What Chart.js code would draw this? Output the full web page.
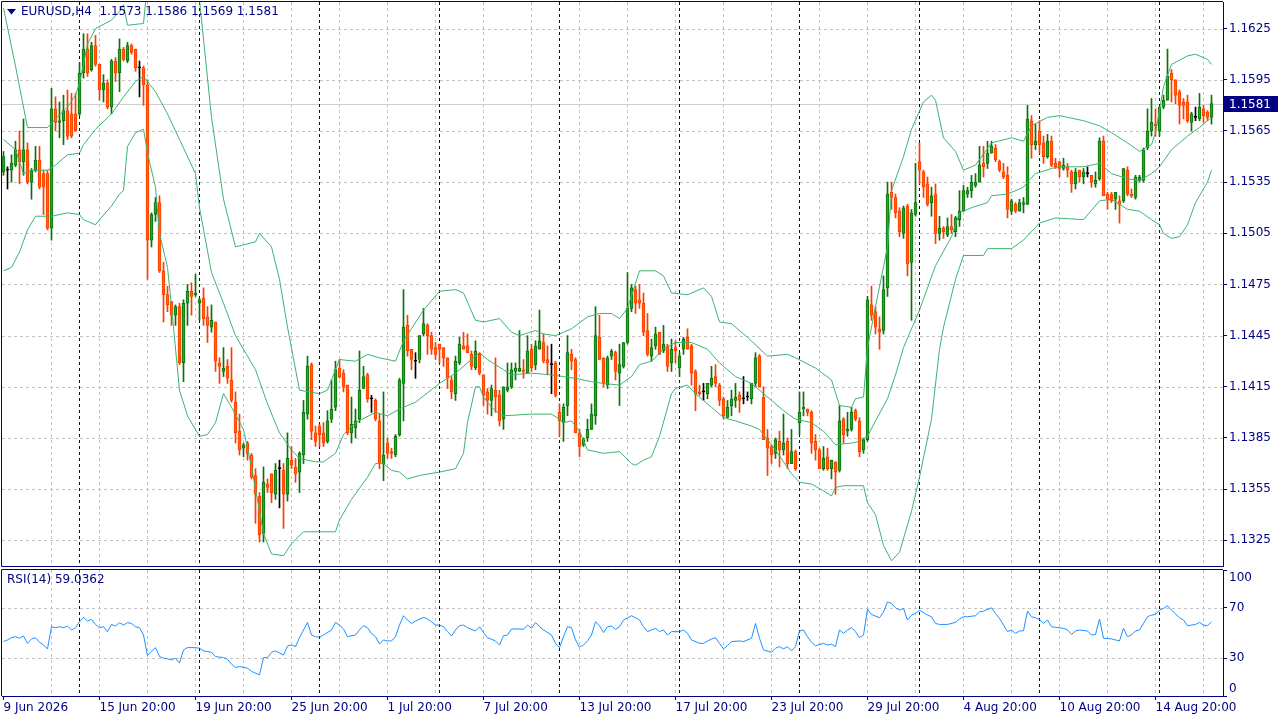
<!DOCTYPE html>
<html>
<head>
<meta charset="utf-8">
<title>EURUSD,H4</title>
<script src="https://cdn.jsdelivr.net/npm/chart.js@4.4.1/dist/chart.umd.min.js"></script>
<style>
  html, body { margin: 0; padding: 0; background: #ffffff; overflow: hidden; }
  #main { position: absolute; left: 0; top: 0; }
  #rsi { position: absolute; left: 0; top: 567px; }
</style>
</head>
<body>
<canvas id="main" width="1280" height="567"></canvas>
<canvas id="rsi" width="1280" height="153"></canvas>
<script>
// EURUSD H4 candles (index 0 = first bar on the left)
const opens = [
  1.1541,1.1542,1.1542,1.1545,1.1554,1.1547,1.1554,1.1535,1.1542,1.1548,
  1.1540,1.1540,1.1508,1.1578,1.1570,1.1571,1.1577,1.1575,1.1575,1.1575,
  1.1599,1.1613,1.1601,1.1615,1.1604,1.1589,1.1593,1.1579,1.1606,1.1599,
  1.1613,1.1606,1.1615,1.1613,1.1602,1.1602,1.1592,1.1501,1.1516,1.1523,
  1.1483,1.1469,1.1465,1.1457,1.1462,1.1429,1.1464,1.1471,1.1469,1.1464,
  1.1467,1.1456,1.1450,1.1453,1.1429,1.1424,1.1427,1.1419,1.1406,1.1389,
  1.1379,1.1382,1.1375,1.1363,1.1351,1.1329,1.1358,1.1364,1.1352,1.1367,
  1.1366,1.1352,1.1372,1.1368,1.1365,1.1375,1.1399,1.1428,1.1388,1.1392,
  1.1388,1.1383,1.1396,1.1403,1.1426,1.1423,1.1416,1.1388,1.1391,1.1396,
  1.1414,1.1422,1.1408,1.1407,1.1395,1.1370,1.1382,1.1377,1.1375,1.1387,
  1.1417,1.1451,1.1437,1.1430,1.1431,1.1446,1.1451,1.1445,1.1438,1.1440,
  1.1438,1.1432,1.1419,1.1411,1.1429,1.1439,1.1439,1.1434,1.1426,1.1434,
  1.1422,1.1412,1.1407,1.1413,1.1410,1.1396,1.1413,1.1415,1.1424,1.1424,
  1.1425,1.1423,1.1437,1.1428,1.1437,1.1441,1.1431,1.1428,1.1429,1.1400,
  1.1394,1.1404,1.1434,1.1431,1.1388,1.1381,1.1385,1.1390,1.1398,1.1444,
  1.1432,1.1416,1.1433,1.1435,1.1423,1.1427,1.1441,1.1461,1.1472,1.1466,
  1.1464,1.1448,1.1433,1.1439,1.1447,1.1436,1.1439,1.1429,1.1438,1.1426,
  1.1437,1.1444,1.1439,1.1424,1.1412,1.1412,1.1411,1.1416,1.1421,1.1416,
  1.1408,1.1397,1.1404,1.1407,1.1410,1.1408,1.1409,1.1408,1.1417,1.1433,
  1.1409,1.1385,1.1380,1.1376,1.1383,1.1378,1.1383,1.1370,1.1377,1.1394,
  1.1402,1.1402,1.1400,1.1383,1.1378,1.1367,1.1374,1.1367,1.1371,1.1366,
  1.1396,1.1389,1.1390,1.1401,1.1395,1.1378,1.1384,1.1463,1.1459,1.1449,
  1.1448,1.1473,1.1529,1.1526,1.1518,1.1505,1.1521,1.1488,1.1516,1.1547,
  1.1541,1.1534,1.1523,1.1528,1.1505,1.1508,1.1504,1.1509,1.1506,1.1513,
  1.1518,1.1528,1.1530,1.1533,1.1535,1.1546,1.1546,1.1552,1.1555,1.1547,
  1.1541,1.1539,1.1518,1.1522,1.1518,1.1522,1.1522,1.1571,1.1557,1.1565,
  1.1558,1.1550,1.1559,1.1546,1.1547,1.1543,1.1544,1.1541,1.1534,1.1542,
  1.1538,1.1540,1.1539,1.1534,1.1537,1.1559,1.1528,1.1528,1.1525,1.1524,
  1.1524,1.1542,1.1528,1.1526,1.1536,1.1536,1.1555,1.1565,1.1569,1.1565,
  1.1579,1.1583,1.1599,1.1595,1.1588,1.1582,1.1582,1.1570,1.1573,1.1572,
  1.1578,1.1576,1.1573
];
const highs = [
  1.1553,1.1544,1.1551,1.1559,1.1565,1.1572,1.1558,1.1543,1.1556,1.1556,
  1.1542,1.1542,1.1590,1.1585,1.1582,1.1586,1.1589,1.1587,1.1587,1.1605,
  1.1622,1.1622,1.1617,1.1621,1.1604,1.1598,1.1595,1.1607,1.1608,1.1619,
  1.1614,1.1617,1.1616,1.1613,1.1606,1.1603,1.1595,1.1517,1.1526,1.1527,
  1.1488,1.1474,1.1465,1.1463,1.1464,1.1466,1.1475,1.1476,1.1481,1.1467,
  1.1473,1.1462,1.1463,1.1453,1.1432,1.1438,1.1431,1.1438,1.1412,1.1399,
  1.1382,1.1383,1.1376,1.1367,1.1353,1.1368,1.1361,1.1364,1.1370,1.1372,
  1.1370,1.1388,1.1380,1.1373,1.1377,1.1407,1.1433,1.1429,1.1392,1.1393,
  1.1394,1.1401,1.1419,1.1430,1.1431,1.1425,1.1416,1.1409,1.1402,1.1436,
  1.1427,1.1423,1.1410,1.1408,1.1399,1.1412,1.1385,1.1379,1.1387,1.1420,
  1.1472,1.1457,1.1437,1.1435,1.1445,1.1461,1.1452,1.1447,1.1441,1.1440,
  1.1438,1.1432,1.1421,1.1433,1.1444,1.1447,1.1446,1.1436,1.1442,1.1435,
  1.1422,1.1414,1.1416,1.1432,1.1413,1.1415,1.1429,1.1429,1.1429,1.1448,
  1.1431,1.1445,1.1440,1.1442,1.1460,1.1446,1.1439,1.1440,1.1430,1.1405,
  1.1405,1.1445,1.1437,1.1432,1.1390,1.1385,1.1396,1.1405,1.1462,1.1457,
  1.1432,1.1433,1.1437,1.1436,1.1440,1.1441,1.1482,1.1475,1.1474,1.1475,
  1.1470,1.1458,1.1443,1.1450,1.1447,1.1451,1.1440,1.1443,1.1442,1.1435,
  1.1444,1.1449,1.1440,1.1425,1.1416,1.1417,1.1417,1.1427,1.1428,1.1417,
  1.1409,1.1407,1.1413,1.1417,1.1412,1.1421,1.1412,1.1417,1.1435,1.1434,
  1.1415,1.1390,1.1381,1.1385,1.1389,1.1399,1.1385,1.1390,1.1378,1.1412,
  1.1412,1.1402,1.1401,1.1387,1.1379,1.1380,1.1379,1.1372,1.1371,1.1404,
  1.1397,1.1400,1.1403,1.1402,1.1397,1.1385,1.1468,1.1474,1.1462,1.1456,
  1.1480,1.1535,1.1535,1.1528,1.1520,1.1521,1.1522,1.1519,1.1546,1.1558,
  1.1542,1.1538,1.1532,1.1534,1.1515,1.1509,1.1514,1.1516,1.1515,1.1530,
  1.1533,1.1532,1.1539,1.1540,1.1556,1.1556,1.1559,1.1559,1.1557,1.1548,
  1.1546,1.1544,1.1525,1.1523,1.1525,1.1526,1.1580,1.1574,1.1569,1.1571,
  1.1562,1.1563,1.1562,1.1549,1.1547,1.1549,1.1546,1.1542,1.1543,1.1542,
  1.1543,1.1544,1.1539,1.1541,1.1561,1.1562,1.1529,1.1529,1.1529,1.1527,
  1.1543,1.1544,1.1531,1.1539,1.1539,1.1555,1.1578,1.1584,1.1578,1.1579,
  1.1586,1.1613,1.1601,1.1595,1.1589,1.1584,1.1586,1.1576,1.1579,1.1587,
  1.1580,1.1577,1.1586
];
const lows = [
  1.1539,1.1531,1.1535,1.1544,1.1534,1.1539,1.1534,1.1525,1.1541,1.1531,
  1.1516,1.1507,1.1501,1.1565,1.1561,1.1557,1.1560,1.1561,1.1565,1.1574,
  1.1596,1.1597,1.1600,1.1603,1.1583,1.1582,1.1578,1.1575,1.1594,1.1588,
  1.1606,1.1605,1.1610,1.1600,1.1585,1.1580,1.1478,1.1497,1.1512,1.1482,
  1.1453,1.1459,1.1451,1.1451,1.1428,1.1418,1.1451,1.1457,1.1468,1.1454,
  1.1451,1.1441,1.1447,1.1424,1.1417,1.1421,1.1417,1.1406,1.1382,1.1375,
  1.1374,1.1372,1.1361,1.1335,1.1324,1.1324,1.1353,1.1347,1.1349,1.1344,
  1.1332,1.1348,1.1367,1.1359,1.1353,1.1370,1.1396,1.1384,1.1380,1.1380,
  1.1380,1.1382,1.1394,1.1401,1.1420,1.1412,1.1387,1.1382,1.1385,1.1394,
  1.1414,1.1406,1.1400,1.1395,1.1367,1.1360,1.1373,1.1373,1.1374,1.1386,
  1.1395,1.1433,1.1425,1.1420,1.1429,1.1445,1.1434,1.1434,1.1431,1.1429,
  1.1427,1.1414,1.1408,1.1407,1.1428,1.1437,1.1435,1.1425,1.1425,1.1422,
  1.1404,1.1399,1.1398,1.1400,1.1392,1.1390,1.1412,1.1414,1.1419,1.1424,
  1.1420,1.1423,1.1424,1.1425,1.1437,1.1429,1.1422,1.1411,1.1409,1.1386,
  1.1383,1.1398,1.1425,1.1388,1.1374,1.1380,1.1383,1.1390,1.1393,1.1431,
  1.1415,1.1414,1.1431,1.1419,1.1404,1.1426,1.1440,1.1459,1.1458,1.1461,
  1.1445,1.1433,1.1430,1.1437,1.1434,1.1435,1.1424,1.1424,1.1429,1.1421,
  1.1434,1.1437,1.1416,1.1401,1.1410,1.1407,1.1408,1.1415,1.1415,1.1404,
  1.1396,1.1397,1.1398,1.1403,1.1400,1.1405,1.1407,1.1405,1.1415,1.1415,
  1.1384,1.1363,1.1370,1.1373,1.1368,1.1375,1.1367,1.1370,1.1366,1.1387,
  1.1398,1.1398,1.1376,1.1372,1.1367,1.1366,1.1366,1.1361,1.1352,1.1365,
  1.1382,1.1386,1.1389,1.1395,1.1374,1.1376,1.1383,1.1454,1.1446,1.1437,
  1.1446,1.1468,1.1519,1.1514,1.1503,1.1502,1.1480,1.1454,1.1515,1.1534,
  1.1526,1.1521,1.1515,1.1499,1.1501,1.1502,1.1503,1.1505,1.1503,1.1509,
  1.1518,1.1526,1.1526,1.1532,1.1535,1.1538,1.1543,1.1552,1.1547,1.1541,
  1.1537,1.1514,1.1516,1.1517,1.1518,1.1517,1.1522,1.1549,1.1554,1.1552,
  1.1546,1.1549,1.1544,1.1543,1.1538,1.1542,1.1538,1.1529,1.1531,1.1535,
  1.1534,1.1538,1.1532,1.1532,1.1536,1.1527,1.1519,1.1523,1.1519,1.1511,
  1.1523,1.1527,1.1526,1.1525,1.1535,1.1535,1.1554,1.1562,1.1562,1.1562,
  1.1578,1.1583,1.1582,1.1581,1.1569,1.1572,1.1570,1.1565,1.1571,1.1571,
  1.1570,1.1571,1.1569
];
const closes = [
  1.1550,1.1542,1.1546,1.1554,1.1547,1.1554,1.1535,1.1542,1.1548,1.1532,
  1.1532,1.1508,1.1578,1.1570,1.1571,1.1577,1.1562,1.1562,1.1565,1.1599,
  1.1613,1.1599,1.1615,1.1604,1.1589,1.1593,1.1579,1.1606,1.1599,1.1613,
  1.1607,1.1615,1.1611,1.1602,1.1602,1.1592,1.1501,1.1516,1.1523,1.1483,
  1.1469,1.1463,1.1457,1.1462,1.1429,1.1464,1.1471,1.1468,1.1470,1.1466,
  1.1455,1.1451,1.1454,1.1430,1.1427,1.1426,1.1420,1.1407,1.1388,1.1378,
  1.1381,1.1376,1.1362,1.1352,1.1328,1.1359,1.1356,1.1353,1.1366,1.1367,
  1.1352,1.1373,1.1369,1.1364,1.1376,1.1400,1.1427,1.1389,1.1383,1.1387,
  1.1382,1.1395,1.1402,1.1425,1.1421,1.1415,1.1388,1.1393,1.1395,1.1413,
  1.1421,1.1408,1.1408,1.1396,1.1370,1.1375,1.1376,1.1376,1.1386,1.1419,
  1.1450,1.1436,1.1431,1.1430,1.1445,1.1452,1.1445,1.1437,1.1434,1.1437,
  1.1432,1.1420,1.1412,1.1430,1.1440,1.1437,1.1435,1.1427,1.1436,1.1423,
  1.1410,1.1407,1.1414,1.1409,1.1395,1.1415,1.1415,1.1425,1.1426,1.1426,
  1.1424,1.1436,1.1426,1.1439,1.1442,1.1430,1.1429,1.1428,1.1410,1.1395,
  1.1403,1.1435,1.1430,1.1388,1.1380,1.1384,1.1390,1.1399,1.1445,1.1431,
  1.1417,1.1432,1.1436,1.1424,1.1428,1.1441,1.1461,1.1473,1.1464,1.1464,
  1.1447,1.1434,1.1438,1.1446,1.1434,1.1440,1.1427,1.1437,1.1436,1.1433,
  1.1443,1.1437,1.1423,1.1411,1.1411,1.1412,1.1417,1.1420,1.1417,1.1407,
  1.1398,1.1403,1.1408,1.1409,1.1407,1.1408,1.1409,1.1417,1.1432,1.1415,
  1.1384,1.1379,1.1375,1.1384,1.1378,1.1382,1.1370,1.1377,1.1367,1.1400,
  1.1403,1.1400,1.1382,1.1378,1.1367,1.1373,1.1367,1.1372,1.1365,1.1395,
  1.1387,1.1390,1.1400,1.1396,1.1377,1.1384,1.1466,1.1457,1.1450,1.1447,
  1.1472,1.1528,1.1526,1.1517,1.1506,1.1520,1.1487,1.1517,1.1523,1.1542,
  1.1532,1.1522,1.1527,1.1505,1.1508,1.1506,1.1509,1.1507,1.1514,1.1518,
  1.1530,1.1530,1.1535,1.1535,1.1545,1.1544,1.1552,1.1556,1.1548,1.1542,
  1.1538,1.1519,1.1524,1.1518,1.1523,1.1523,1.1572,1.1557,1.1559,1.1557,
  1.1550,1.1559,1.1545,1.1544,1.1543,1.1545,1.1542,1.1534,1.1541,1.1538,
  1.1541,1.1540,1.1535,1.1536,1.1559,1.1527,1.1525,1.1524,1.1529,1.1522,
  1.1543,1.1528,1.1527,1.1538,1.1538,1.1554,1.1565,1.1570,1.1568,1.1579,
  1.1583,1.1597,1.1595,1.1586,1.1580,1.1580,1.1571,1.1575,1.1573,1.1579,
  1.1574,1.1573,1.1581
];

// Bollinger Bands (20, 2) as drawn, sampled at bar indexes
const upperIdx = [0,3,6,11,13,16,18,19,20,21,23,27,29,30,31,35,36,40,44,47,
  49,52,55,58,63,64,67,69,71,74,79,81,84,88,91,94,98,100,102,105,
  109,113,115,118,120,124,127,129,133,135,138,142,146,149,152,154,156,159,163,165,
  167,171,175,177,179,182,186,191,196,198,203,207,209,212,213,215,216,218,221,222,
  225,227,230,232,233,235,238,240,243,247,252,255,257,261,264,266,270,274,277,281,
  284,287,288,289,290,292,296,298,301,302];
const upperVal = [1.1637,1.1603,1.1567,1.1567,1.1572,1.1579,1.1586,1.1593,1.1604,1.1616,
  1.1625,1.1630,1.1635,1.1639,1.1627,1.1628,1.1652,1.1675,1.1690,1.1672,
  1.1642,1.1573,1.1525,1.1497,1.1500,1.1505,1.1497,1.1478,1.1450,1.1413,
  1.1411,1.1413,1.1431,1.1430,1.1434,1.1432,1.1430,1.1442,1.1449,1.1460,
  1.1471,1.1472,1.1470,1.1454,1.1453,1.1455,1.1447,1.1445,1.1448,1.1446,
  1.1445,1.1449,1.1456,1.1458,1.1458,1.1455,1.1461,1.1483,1.1483,1.1480,
  1.1470,1.1469,1.1473,1.1468,1.1453,1.1452,1.1444,1.1433,1.1434,1.1432,
  1.1426,1.1419,1.1404,1.1403,1.1408,1.1409,1.1438,1.1462,1.1497,1.1530,
  1.1550,1.1566,1.1582,1.1586,1.1583,1.1561,1.1553,1.1542,1.1545,1.1558,
  1.1561,1.1559,1.1568,1.1573,1.1574,1.1573,1.1571,1.1568,1.1564,1.1558,
  1.1553,1.1557,1.1564,1.1577,1.1591,1.1604,1.1609,1.1610,1.1607,1.1604];
const midIdx = [0,3,5,7,11,13,16,19,20,23,27,30,33,35,36,38,41,44,48,49,
  52,55,58,63,66,69,72,74,78,80,83,85,88,93,96,99,103,109,113,117,
  119,121,125,127,132,137,140,143,147,150,154,157,159,162,165,168,172,176,179,183,
  187,190,192,195,198,202,205,208,212,214,216,218,221,223,225,229,233,237,239,242,
  246,247,251,255,256,258,262,264,270,274,277,281,284,287,289,292,296,299,302];
const midVal = [1.1560,1.1554,1.1540,1.1542,1.1542,1.1545,1.1551,1.1552,1.1557,1.1566,
  1.1575,1.1585,1.1594,1.1597,1.1594,1.1588,1.1575,1.1560,1.1540,1.1520,
  1.1482,1.1464,1.1445,1.1425,1.1405,1.1388,1.1378,1.1373,1.1371,1.1371,
  1.1376,1.1387,1.1394,1.1400,1.1398,1.1402,1.1406,1.1417,1.1423,1.1431,
  1.1435,1.1431,1.1425,1.1422,1.1423,1.1422,1.1421,1.1420,1.1418,1.1417,
  1.1416,1.1421,1.1428,1.1430,1.1437,1.1441,1.1441,1.1437,1.1429,1.1421,
  1.1417,1.1411,1.1407,1.1401,1.1396,1.1394,1.1389,1.1381,1.1382,1.1383,
  1.1386,1.1395,1.1408,1.1422,1.1438,1.1460,1.1486,1.1503,1.1517,1.1520,
  1.1523,1.1527,1.1528,1.1532,1.1535,1.1540,1.1543,1.1544,1.1544,1.1546,
  1.1540,1.1537,1.1536,1.1540,1.1544,1.1554,1.1562,1.1567,1.1573];
const lowIdx = [0,2,4,6,8,12,16,19,20,23,24,27,29,30,31,33,35,36,38,39,
  41,42,44,46,49,51,53,55,57,60,62,65,67,70,72,75,83,84,87,91,
  93,95,97,99,101,104,109,113,115,116,118,119,120,122,124,125,132,137,139,140,
  142,144,146,150,154,157,158,160,162,164,167,168,171,173,177,180,183,187,189,193,
  197,199,202,205,207,208,210,215,216,218,220,222,224,227,229,232,234,235,238,240,
  245,246,252,255,259,263,270,274,277,281,284,287,289,290,292,294,296,298,301,302];
const lowVal = [1.1483,1.1485,1.1494,1.1507,1.1515,1.1515,1.1517,1.1516,1.1513,1.1510,
  1.1513,1.1521,1.1528,1.1530,1.1556,1.1564,1.1566,1.1552,1.1532,1.1505,
  1.1485,1.1462,1.1413,1.1398,1.1386,1.1387,1.1394,1.1411,1.1403,1.1390,
  1.1368,1.1329,1.1317,1.1316,1.1323,1.1330,1.1330,1.1337,1.1349,1.1362,
  1.1370,1.1370,1.1366,1.1365,1.1361,1.1363,1.1365,1.1367,1.1376,1.1394,
  1.1415,1.1415,1.1409,1.1403,1.1399,1.1398,1.1399,1.1399,1.1396,1.1394,
  1.1395,1.1389,1.1378,1.1376,1.1377,1.1370,1.1369,1.1372,1.1374,1.1386,
  1.1411,1.1414,1.1416,1.1411,1.1403,1.1397,1.1395,1.1392,1.1390,1.1378,
  1.1364,1.1359,1.1358,1.1354,1.1351,1.1356,1.1357,1.1357,1.1347,1.1340,
  1.1322,1.1313,1.1318,1.1342,1.1362,1.1396,1.1437,1.1450,1.1478,1.1492,
  1.1492,1.1496,1.1496,1.1501,1.1511,1.1514,1.1513,1.1524,1.1525,1.1519,
  1.1518,1.1513,1.1510,1.1505,1.1502,1.1503,1.1510,1.1523,1.1535,1.1542];

// RSI(14) as drawn, sampled at bar indexes
const rsiIdx = [0,1,2,3,4,5,6,7,8,9, 10,11,12,13,14,15,16,17,18,19,
  20,21,22,23,24,25,26,27,28,29, 30,31,32,33,34,35,36,37,38,39,
  40,41,42,43,44,45,46,48,49,50, 51,52,53,55,56,57,58,59,61,62,
  64,65,66,67,68,70,71,72,73,74, 76,77,78,79,80,82,83,84,85,86,
  88,89,90,91,92,93,94,95,96,97, 98,99,100,101,102,103,105,106,107,108,
  109,110,111,112,113,114,115,116,118,119, 120,121,123,124,125,126,127,129,130,131,
  132,133,134,135,137,138,139,140,141,142, 143,144,145,146,147,148,149,150,151,152,
  153,154,155,157,158,159,160,161,162,163, 164,165,166,167,168,169,170,171,172,174,
  175,177,178,179,180,181,182,184,185,187, 188,189,190,192,193,194,195,196,197,198,
  199,200,201,202,203,205,206,207,208,209, 210,211,212,213,214,215,216,217,219,220,
  221,222,223,224,225,226,227,228,229,231, 232,233,234,236,238,239,240,241,243,244,
  245,247,248,249,250,251,252,253,254,255, 256,257,258,259,260,261,262,263,265,266,
  267,268,269,271,272,273,274,275,277,278, 279,280,281,282,283,284,285,286,287,288,
  289,290,291,292,294,295,296,297,298,299, 300,301,302];
const rsiVal = [43.2,44.5,46.3,47.1,45.8,47.6,41.8,45.3,46.3,42.6, 40.5,37.4,55.0,54.2,55.0,54.2,55.5,52.4,54.2,58.9,
  62.4,59.5,60.8,56.8,54.2,55.0,51.1,56.8,55.5,58.2, 56.3,58.2,57.6,55.0,54.2,48.4,32.1,35.6,38.4,31.3,
  30.0,29.5,28.7,30.0,26.1,36.6,38.4,38.4,37.9,35.8, 35.3,34.7,31.3,30.5,29.2,25.3,22.6,23.4,22.1,19.5,
  16.8,30.5,30.5,34.7,35.8,32.6,39.7,40.5,39.2,46.3, 58.4,48.4,47.1,46.6,48.4,52.4,58.4,56.3,53.2,47.1,
  48.4,52.4,55.8,54.2,49.7,47.1,41.3,44.5,43.7,43.7, 47.1,56.3,63.7,60.3,57.6,59.5,62.4,61.1,58.9,56.3,
  56.3,55.0,51.1,47.6,52.4,55.8,56.3,54.2,51.6,55.0, 50.3,46.3,43.7,40.5,47.9,48.4,53.2,53.2,52.9,56.3,
  53.7,58.4,55.0,52.4,48.4,41.8,38.4,47.1,55.0,54.2, 44.5,38.7,40.5,43.7,48.4,58.9,55.8,50.3,55.0,55.5,
  52.9,55.0,60.3,63.7,62.1,60.3,55.0,51.1,52.4,53.7, 51.1,52.4,48.4,51.1,51.1,51.1,52.4,49.7,44.5,41.8,
  41.8,45.3,46.3,41.8,37.4,40.0,43.2,43.7,43.2,45.8, 57.6,45.8,36.6,34.7,37.9,39.2,37.4,39.2,35.8,39.2,
  51.6,52.4,47.1,42.6,40.0,41.8,40.5,41.1,39.2,52.4, 49.7,52.4,54.2,51.1,46.3,48.4,68.9,64.7,62.1,66.8,
  74.7,73.4,70.0,68.2,69.5,60.3,64.2,65.5,68.2,64.2, 62.9,57.6,56.8,56.8,58.4,61.1,62.9,62.9,63.7,66.8,
  67.4,70.0,65.5,61.6,56.3,51.1,52.4,49.7,51.6,51.8, 67.4,62.9,62.1,60.8,57.6,60.3,55.0,54.5,53.7,52.4,
  48.9,51.6,52.4,51.6,48.4,48.9,61.1,45.8,45.3,44.5, 43.7,53.7,47.1,48.4,51.6,52.4,57.6,62.9,64.2,64.7,
  68.2,69.5,71.6,68.2,62.1,60.3,55.8,56.3,56.8,58.4, 56.3,55.8,59.0];

// axes
const priceTicks = [1.1325,1.1355,1.1385,1.1415,1.1445,1.1475,1.1505,1.1535,1.1565,1.1595,1.1625];
const rsiTicks = [0,30,70,100];
const rsiLevels = [30,70];
const dateTickIdx = [0,24,48,72,96,120,144,168,192,216,240,264,288];
const dateLabels = ['9 Jun 2026','15 Jun 20:00','19 Jun 20:00','25 Jun 20:00','1 Jul 20:00','7 Jul 20:00',
  '13 Jul 20:00','17 Jul 20:00','23 Jul 20:00','29 Jul 20:00','4 Aug 20:00','10 Aug 20:00','14 Aug 20:00'];
const gridIdx = [12,24,36,48,60,72,84,96,108,120,132,144,156,168,180,192,204,216,228,240,252,264,276,288,300];
const sepIdx = [19,49,79,109,139,169,199,229,259,289];

const symbol = 'EURUSD,H4';
const rsiLabel = 'RSI(14) 59.0362';

const NAVY = '#000080';
const GRID = '#c4c4c4';
const X_MIN = -0.375, X_MAX = 304.875;
const Y_MIN = 1.130994, Y_MAX = 1.164061;

Chart.defaults.font.family = '"DejaVu Sans", sans-serif';
Chart.defaults.font.size = 12;

const fmt = v => v.toFixed(4);
const pts = (idx, val) => idx.map((x, k) => ({ x: x, y: val[k] }));
// no automatic label padding: plot area must reach the panel edges
const noPad = s => { s.paddingTop = 0; s.paddingBottom = 0; s.paddingLeft = 0; s.paddingRight = 0; };

// candle colours from direction
const dir = closes.map((c, i) => Math.sign(c - opens[i]));
const fillCols = dir.map(d => d > 0 ? '#24a824' : d < 0 ? '#ff6a00' : '#000000');
const edgeCols = dir.map(d => d > 0 ? '#0c700c' : d < 0 ? '#ff3a00' : '#000000');

function vLine(ctx, px, y0, y1) {
  const xx = Math.floor(px) + 0.5;
  ctx.beginPath(); ctx.moveTo(xx, y0); ctx.lineTo(xx, y1); ctx.stroke();
}
function hLine(ctx, py, x0, x1) {
  const yy = Math.round(py) + 0.5;
  ctx.beginPath(); ctx.moveTo(x0, yy); ctx.lineTo(x1, yy); ctx.stroke();
}

const mainDecor = {
  id: 'mainDecor',
  beforeDatasetsDraw(chart) {
    const { ctx, chartArea: a, scales: { x, y } } = chart;
    ctx.save();
    ctx.lineWidth = 1;
    ctx.strokeStyle = GRID;
    ctx.setLineDash([3, 3]);
    gridIdx.forEach(i => vLine(ctx, x.getPixelForValue(i), a.top, a.bottom));
    priceTicks.forEach(v => hLine(ctx, y.getPixelForValue(v), a.left, a.right));
    // current bid line
    ctx.setLineDash([]);
    ctx.strokeStyle = '#cfcfcf';
    hLine(ctx, y.getPixelForValue(closes[closes.length - 1]), a.left, a.right);
    // period separators
    ctx.strokeStyle = NAVY;
    ctx.setLineDash([3, 3]);
    sepIdx.forEach(i => vLine(ctx, x.getPixelForValue(i), a.top, a.bottom));
    ctx.restore();
  },
  afterDraw(chart) {
    const { ctx, chartArea: a, scales: { y } } = chart;
    const n = closes.length - 1;
    ctx.save();
    ctx.strokeStyle = NAVY;
    ctx.lineWidth = 1;
    ctx.beginPath();
    ctx.moveTo(a.left - 0.5, a.bottom + 0.5);
    ctx.lineTo(a.left - 0.5, a.top - 0.5);
    ctx.lineTo(a.right, a.top - 0.5);
    ctx.moveTo(a.left - 0.5, a.bottom + 0.5);
    ctx.lineTo(a.right, a.bottom + 0.5);
    ctx.stroke();

    // header
    ctx.fillStyle = NAVY;
    ctx.beginPath();
    ctx.moveTo(7, 9); ctx.lineTo(16, 9); ctx.lineTo(11.5, 14.5);
    ctx.closePath(); ctx.fill();
    ctx.font = '12px "DejaVu Sans"';
    ctx.textBaseline = 'middle';
    ctx.fillText(symbol + '  ' + fmt(opens[n]) + ' ' + fmt(highs[n]) + ' ' + fmt(lows[n]) + ' ' + fmt(closes[n]), 21, 12);

    // last price label
    const py = Math.round(y.getPixelForValue(closes[n]));
    ctx.fillStyle = NAVY;
    ctx.fillRect(a.right, py - 8, 55, 16);
    ctx.fillStyle = '#ffffff';
    ctx.fillText(fmt(closes[n]), a.right + 6, py + 0.5);
    ctx.restore();
  }
};

const bandLine = (label, idx, val) => ({
  type: 'line', label: label, data: pts(idx, val),
  borderColor: '#3cb371', borderWidth: 1, pointRadius: 0, tension: 0, order: 0
});

new Chart(document.getElementById('main'), {
  type: 'bar',
  data: {
    datasets: [
      bandLine('Upper', upperIdx, upperVal),
      bandLine('Middle', midIdx, midVal),
      bandLine('Lower', lowIdx, lowVal),
      {
        label: 'Body',
        data: opens.map((o, i) => ({ x: i, y: [o, closes[i]] })),
        backgroundColor: fillCols, borderColor: edgeCols, borderWidth: 1,
        borderSkipped: false, barThickness: 3, minBarLength: 1, grouped: false, order: 1
      },
      {
        label: 'Wick',
        data: lows.map((l, i) => ({ x: i, y: [l, highs[i]] })),
        backgroundColor: edgeCols, borderWidth: 0,
        barThickness: 1, grouped: false, order: 2
      }
    ]
  },
  options: {
    responsive: false,
    devicePixelRatio: 1,
    animation: false,
    layout: { padding: { left: 2, top: 2, right: 0, bottom: 1 } },
    plugins: { legend: { display: false }, tooltip: { enabled: false } },
    scales: {
      x: { type: 'linear', min: X_MIN, max: X_MAX, offset: false, display: false },
      y: {
        position: 'right', min: Y_MIN, max: Y_MAX, beginAtZero: false,
        afterBuildTicks: s => { s.ticks = priceTicks.map(v => ({ value: v })); },
        afterFit: s => { s.width = 57; noPad(s); },
        ticks: { color: NAVY, padding: 2, callback: v => fmt(v) },
        grid: { drawOnChartArea: false, drawTicks: true, tickLength: 4, tickColor: NAVY },
        border: { display: true, color: NAVY }
      }
    }
  },
  plugins: [mainDecor]
});

const rsiDecor = {
  id: 'rsiDecor',
  beforeDatasetsDraw(chart) {
    const { ctx, chartArea: a, scales: { x, y } } = chart;
    ctx.save();
    ctx.lineWidth = 1;
    ctx.strokeStyle = GRID;
    ctx.setLineDash([3, 3]);
    gridIdx.forEach(i => vLine(ctx, x.getPixelForValue(i), a.top, a.bottom));
    rsiLevels.forEach(v => hLine(ctx, y.getPixelForValue(v), a.left, a.right));
    ctx.strokeStyle = NAVY;
    sepIdx.forEach(i => vLine(ctx, x.getPixelForValue(i), a.top, a.bottom));
    ctx.restore();
  },
  afterDraw(chart) {
    const { ctx, chartArea: a } = chart;
    ctx.save();
    ctx.strokeStyle = NAVY;
    ctx.lineWidth = 1;
    ctx.beginPath();
    ctx.moveTo(a.left - 0.5, a.bottom);
    ctx.lineTo(a.left - 0.5, a.top - 0.5);
    ctx.lineTo(a.right, a.top - 0.5);
    ctx.stroke();
    ctx.fillStyle = NAVY;
    ctx.font = '12px "DejaVu Sans"';
    ctx.textBaseline = 'middle';
    ctx.fillText(rsiLabel, 7, 13);
    ctx.fillText(String(rsiTicks[3]), a.right + 6, 11);
    ctx.fillText(String(rsiTicks[0]), a.right + 6, 122);
    ctx.restore();
  }
};

new Chart(document.getElementById('rsi'), {
  type: 'line',
  data: {
    datasets: [{
      label: 'RSI(14)', data: pts(rsiIdx, rsiVal),
      borderColor: '#1e90ff', borderWidth: 1, pointRadius: 0, tension: 0
    }]
  },
  options: {
    responsive: false,
    devicePixelRatio: 1,
    animation: false,
    layout: { padding: { left: 2, top: 3, right: 0, bottom: 0 } },
    plugins: { legend: { display: false }, tooltip: { enabled: false } },
    scales: {
      x: {
        type: 'linear', min: X_MIN, max: X_MAX, offset: false,
        afterBuildTicks: s => { s.ticks = dateTickIdx.map(v => ({ value: v })); },
        afterFit: s => { s.height = 24; noPad(s); },
        ticks: {
          color: NAVY, align: 'start', autoSkip: false, maxRotation: 0, minRotation: 0, padding: 1,
          callback: v => { const k = dateTickIdx.indexOf(v); return k >= 0 ? dateLabels[k] : ''; }
        },
        grid: { drawOnChartArea: false, drawTicks: true, tickLength: 4, tickColor: NAVY },
        border: { display: true, color: NAVY }
      },
      y: {
        position: 'right', min: 0, max: 100,
        afterBuildTicks: s => { s.ticks = rsiTicks.map(v => ({ value: v })); },
        afterFit: s => { s.width = 57; noPad(s); },
        ticks: { color: NAVY, padding: 2, callback: v => rsiLevels.includes(v) ? String(v) : '' },
        grid: { drawOnChartArea: false, drawTicks: true, tickLength: 4, tickColor: NAVY },
        border: { display: true, color: NAVY }
      }
    }
  },
  plugins: [rsiDecor]
});
</script>
</body>
</html>
